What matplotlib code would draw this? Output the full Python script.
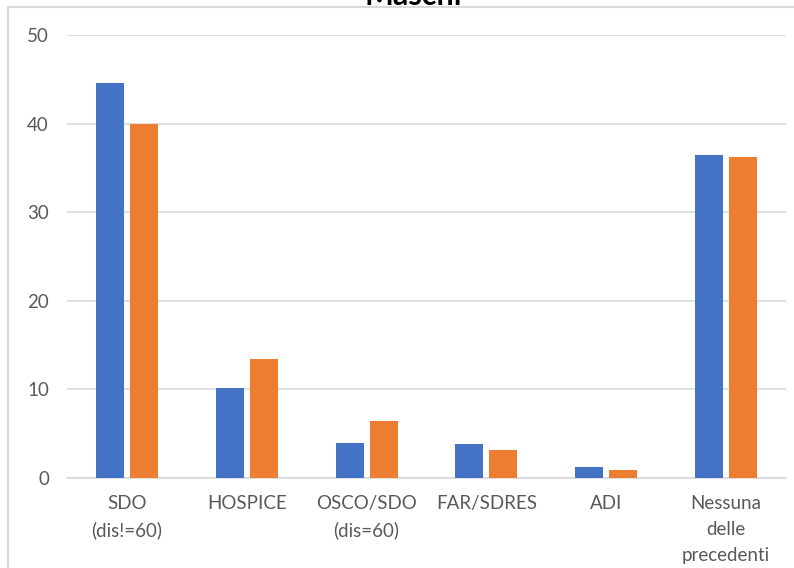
import numpy as np
import matplotlib.pyplot as plt
from matplotlib.lines import Line2D

categories = ['SDO\n(dis!=60)', 'HOSPICE', 'OSCO/SDO\n(dis=60)', 'FAR/SDRES', 'ADI',
              'Nessuna\ndelle\nprecedenti']
serie1 = [44.6, 10.1, 4.0, 3.8, 1.2, 36.5]
serie2 = [39.9, 13.4, 6.4, 3.2, 0.9, 36.2]
yticks = [0, 10, 20, 30, 40, 50]

plt.rcParams['font.family'] = ['Lato', 'DejaVu Sans']

fig = plt.figure(figsize=(7.94, 5.68), dpi=100)
ax = fig.add_axes([0.0844, 0.1585, 0.9056, 0.78])

x = np.arange(len(categories))
w = 0.234
ax.bar(x - 0.142, serie1, w, color='#4472C4', zorder=3)
ax.bar(x + 0.142, serie2, w, color='#ED7D31', zorder=3)

ax.set_xlim(-0.5, len(categories) - 0.5)
ax.set_ylim(0, 50)
ax.set_yticks(yticks)
ax.yaxis.grid(True, color='#D9D9D9', linewidth=1.2, zorder=0)
ax.set_xticks(x)
ax.set_xticklabels(categories, linespacing=1.65)
ax.tick_params(axis='both', length=0, labelsize=13.5, colors='#595959')
ax.tick_params(axis='y', pad=13)
ax.tick_params(axis='x', pad=12)
for s in ['top', 'right', 'left']:
    ax.spines[s].set_visible(False)
ax.spines['bottom'].set_color('#D9D9D9')
ax.spines['bottom'].set_linewidth(1.2)

# chart frame (partially visible)
fig.add_artist(Line2D([8 / 794, 8 / 794], [0, 1 - 7 / 568], color='#D9D9D9', linewidth=1.5))
fig.add_artist(Line2D([8 / 794, 1], [1 - 7 / 568, 1 - 7 / 568], color='#D9D9D9', linewidth=1.5))

fig.text(413 / 794, 1 - 5 / 568, 'Maschi', ha='center', va='baseline',
         fontsize=22, fontweight='bold', color='black')

fig.savefig('out.png', dpi=100)
